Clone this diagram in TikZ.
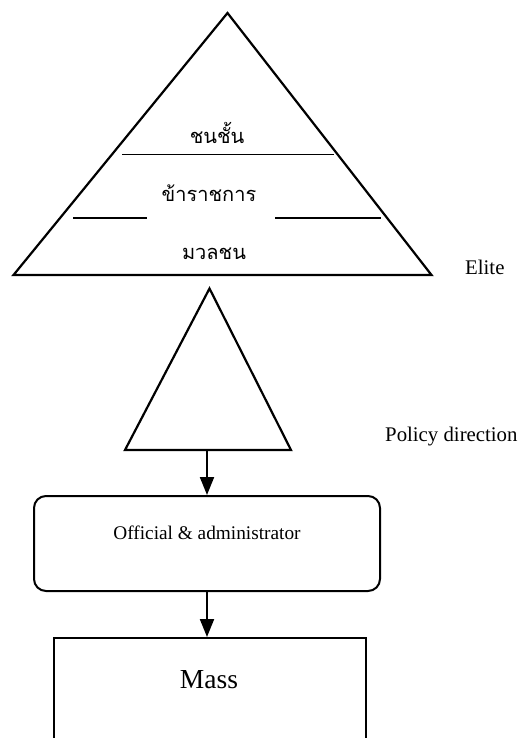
\documentclass[tikz,border=0pt]{standalone}
\usepackage{fontspec}
\setmainfont{Liberation Serif}
\newfontfamily\thaifont[Script=Thai]{Loma}
\usetikzlibrary{arrows.meta}
\tikzset{
  tri/.style={draw=black, line width=2.2pt, line join=miter},
  sep/.style={draw=black, line width=1.3pt},
  thai/.style={font=\thaifont\fontsize{20}{23}\selectfont, inner sep=0pt},
  lbl/.style={font=\fontsize{20.8}{24}\selectfont, inner sep=0pt},
  arr/.style={draw=black, line width=2pt, -{Triangle[length=18pt,width=14pt]}},
  offbox/.style={draw=black, line width=2pt, rounded corners=12pt, minimum width=346pt, minimum height=95pt, inner sep=0pt},
  massbox/.style={draw=black, line width=2pt, minimum width=312pt, minimum height=140pt, inner sep=0pt},
}
\begin{document}
\begin{tikzpicture}[x=1pt,y=-1pt]
\clip (0,0) rectangle (519,738);
\fill[white] (0,0) rectangle (519,738);
% big pyramid
\coordinate (A) at (227.5,13);
\coordinate (B) at (13.5,275);
\coordinate (C) at (431.5,275);
\draw[tri] (A) -- (B) -- (C) -- cycle;
\draw[sep] (122,154.5) -- (334,154.5);
\draw[sep] (73,218) -- (147,218);
\draw[sep] (275,218) -- (381,218);
\node[thai] (t1) at (217,133) {ชนชั้น};
\node[thai] (t2) at (209,193) {ข้าราชการ};
\node[thai] (t3) at (214,254) {มวลชน};
\node[lbl, anchor=west] (elite) at (465,267) {Elite};
% small triangle
\coordinate (D) at (209.5,288.5);
\coordinate (E) at (125,450);
\coordinate (F) at (291,450);
\draw[tri] (D) -- (E) -- (F) -- cycle;
\coordinate (tb) at (207,450);
\node[lbl, anchor=west] (policy) at (385,437) {Policy direction};
% official box
\node[offbox] (off) at (207,543.5) {};
\node[font=\fontsize{19.3}{23}\selectfont, inner sep=0pt] (offtxt) at (207,533) {Official \& administrator};
% mass box
\node[massbox, anchor=north] (mass) at (210,637) {};
\node[font=\fontsize{27.5}{32}\selectfont, inner sep=0pt] (masstxt) at (209,680) {Mass};
% arrows
\draw[arr] (tb) -- (off.north -| tb);
\draw[arr] (off.south -| tb) -- (mass.north -| tb);
\end{tikzpicture}
\end{document}
